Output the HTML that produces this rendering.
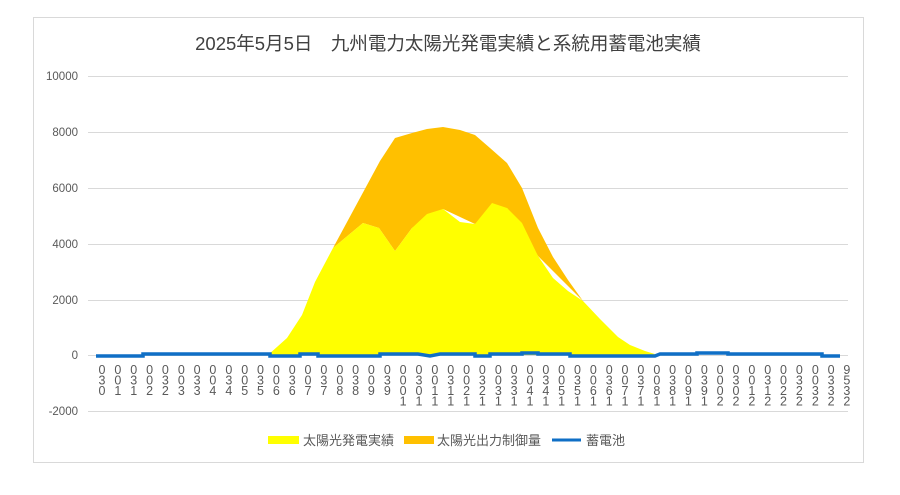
<!DOCTYPE html>
<html><head><meta charset="utf-8"><style>
body{margin:0;background:#fff;}
svg text{font-family:"Liberation Sans","Noto Sans CJK JP",sans-serif;fill:#595959;}
</style></head><body>
<svg width="900" height="490" xmlns="http://www.w3.org/2000/svg">
<rect x="33.5" y="17.5" width="830" height="445" fill="#fff" stroke="#d9d9d9"/>
<text x="448" y="50" text-anchor="middle" font-size="18.5" style="fill:#404040">2025年5月5日　九州電力太陽光発電実績と系統用蓄電池実績</text>
<g stroke="#d9d9d9" stroke-width="1">
<line x1="88" y1="76.5" x2="848" y2="76.5"/><line x1="88" y1="132.5" x2="848" y2="132.5"/>
<line x1="88" y1="188.5" x2="848" y2="188.5"/><line x1="88" y1="244.5" x2="848" y2="244.5"/>
<line x1="88" y1="300.5" x2="848" y2="300.5"/><line x1="88" y1="355.5" x2="848" y2="355.5"/>
<line x1="88" y1="411.5" x2="848" y2="411.5"/>
</g>
<g font-size="11.5" text-anchor="end">
<text x="78" y="80">10000</text><text x="78" y="136">8000</text><text x="78" y="192">6000</text>
<text x="78" y="248">4000</text><text x="78" y="304">2000</text><text x="78" y="359">0</text><text x="78" y="415">-2000</text>
</g>
<polygon fill="#ffc000" points="333,248 380,161 395,138 412,133 427,129 443,127 460,130 475,135 490,148 507,163 522,188 538,228 553,257 568,280 583,301 538,256 507,208 475,224 443,209 412,228 395,251 379,228 363,223"/>
<polygon fill="#ffff00" points="268,355 287,338 302,315 315,282 333,248 363,223 379,228 395,251 412,228 427,214 443,209 460,222 475,224 492,203 507,208 522,223 538,256 553,278 568,291 583,301 600,319 618,337 630,345 645,351 658,355"/>
<polyline fill="none" stroke="#0f6fc6" stroke-width="3.5" points="96,356 143,356 143,354 270,354 270,356 300,356 300,354 318,354 318,356 380,356 380,354 418,354 430,356 440,354 475,354 475,356 490,356 490,354 522,354 522,353 538,353 538,354 570,354 570,356 655,356 660,354 697,354 697,353 728,353 728,354 822,354 822,356 840,356"/>
<g font-size="12.5" text-anchor="middle" id="xl"></g>
<rect x="268" y="436" width="31" height="8" fill="#ffff00"/>
<text x="303" y="445" font-size="13">太陽光発電実績</text>
<rect x="404" y="436" width="30" height="8" fill="#ffc000"/>
<text x="437" y="445" font-size="13">太陽光出力制御量</text>
<line x1="552" y1="440" x2="581" y2="440" stroke="#0f6fc6" stroke-width="3"/>
<text x="586" y="445" font-size="13">蓄電池</text>
</svg>
<script>
var g=document.getElementById('xl'),ns="http://www.w3.org/2000/svg";
for(var i=0;i<48;i++){
 var s;
 if(i==47)s="9532";else{var m=(i+1)*30,h=Math.floor(m/60),mm=m%60;s=(mm==0?"00":"03")+String(h).split('').reverse().join('');}
 var x=102+i*15.85;
 for(var j=0;j<s.length;j++){var t=document.createElementNS(ns,'text');t.setAttribute('x',x.toFixed(1));t.setAttribute('y',374+j*10.5);t.textContent=s[j];g.appendChild(t);}
}
</script>
</body></html>
